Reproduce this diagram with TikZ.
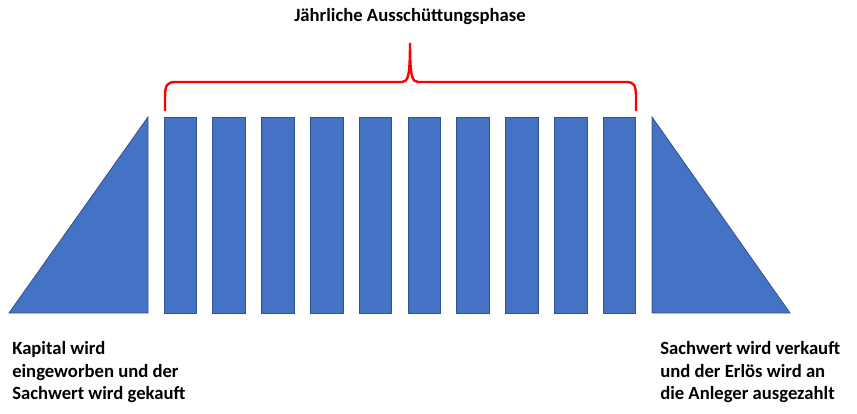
\documentclass[tikz,border=0pt]{standalone}
\usepackage{fontspec}
\setmainfont{Carlito}
\begin{document}
\begin{tikzpicture}[x=0.75pt,y=-0.75pt,
  shapefill/.style={fill={rgb,255:red,68;green,114;blue,196},draw={rgb,255:red,47;green,82;blue,143},line width=0.6pt},
  bracepath/.style={draw={rgb,255:red,255;green,0;blue,0},line width=1.8pt},
  lbl/.style={font=\fontsize{14pt}{17pt}\selectfont\bfseries,inner sep=0pt,align=left,text=black}]
\useasboundingbox (0,0) rectangle (857,414);
% left triangle
\path[shapefill] (9,313) -- (148,117) -- (148,313) -- cycle;
% right triangle
\path[shapefill] (652,117) -- (790,313) -- (652,313) -- cycle;
% bars
\foreach \i in {0,...,9}{
  \pgfmathsetmacro{\xl}{164+48.8*\i}
  \path[shapefill] (\xl,117) rectangle (\xl+32.5,313);
}
% brace
\path[bracepath] (165,111) -- (165,97) .. controls (165,85) and (167,82) .. (176,82)
  -- (402,82) .. controls (408,82) and (410,76) .. (410,43)
  .. controls (410,76) and (412,82) .. (418,82)
  -- (626,82) .. controls (634,82) and (636,85) .. (636,97) -- (636,111);
% labels
\node[lbl,anchor=center] (title) at (410,17) {Jährliche Ausschüttungsphase};
\node[lbl,anchor=north west] (left) at (12,341) {Kapital wird\\eingeworben und der\\Sachwert wird gekauft};
\node[lbl,anchor=north west] (right) at (660,341) {Sachwert wird verkauft\\und der Erlös wird an\\die Anleger ausgezahlt};
\end{tikzpicture}
\end{document}
